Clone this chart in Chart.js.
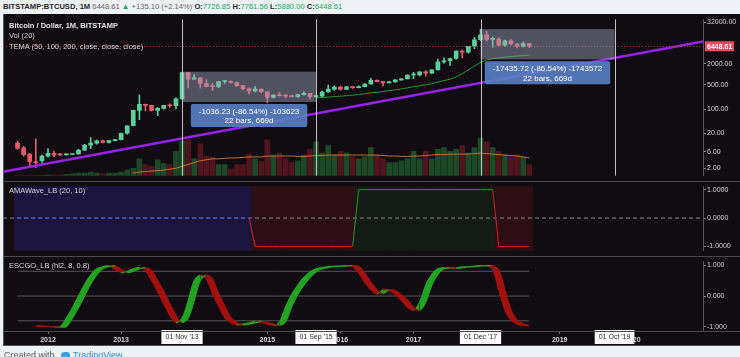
<!DOCTYPE html>
<html><head><meta charset="utf-8">
<script src="https://cdn.jsdelivr.net/npm/chart.js@4.4.0/dist/chart.umd.min.js"></script>
<style>
html,body{margin:0;padding:0;background:#eef1f5;width:740px;height:357px;overflow:hidden;font-family:'Liberation Sans',Arial,sans-serif;}
.abs{position:absolute;white-space:nowrap;}
#frame{position:absolute;left:3px;top:14px;width:737px;height:332px;background:#100c12;box-shadow:inset 1px 0 0 #555, inset 0 -1px 0 #555;}
.sep{position:absolute;left:3px;width:737px;height:1px;background:#4a4a4a;}
canvas{position:absolute;left:3px;}
.leg{color:#d6d6d6;font-size:7.5px;left:9px;line-height:9px;}
</style></head>
<body>
<div class="abs" style="left:3px;top:2px;font-size:7.6px;line-height:10px;color:#666;">
<b style="color:#1e1e1e">BITSTAMP:BTCUSD, 1M</b> 6448.61 <span style="color:#22a852">&#9650;</span> +135.10 (+2.14%) <b style="color:#1e1e1e">O:</b><span style="color:#22a852">7726.85</span> <b style="color:#1e1e1e">H:</b><span style="color:#22a852">7761.56</span> <b style="color:#1e1e1e">L:</b><span style="color:#22a852">5880.00</span> <b style="color:#1e1e1e">C:</b><span style="color:#22a852">6448.61</span>
</div>
<div id="frame"></div>
<canvas id="c1" width="737" height="167" style="top:14px"></canvas>
<canvas id="c2" width="737" height="75" style="top:181px"></canvas>
<canvas id="c3" width="737" height="90" style="top:256px"></canvas>
<div class="sep" style="top:181px"></div>
<div class="sep" style="top:256px"></div>
<div class="sep" style="top:331px"></div>
<div class="abs leg" style="top:21px;font-weight:bold;color:#e2e2e2">Bitcoin / Dollar, 1M, BITSTAMP</div>
<div class="abs leg" style="top:31px">Vol (20)</div>
<div class="abs leg" style="top:42px">TEMA (50, 100, 200, close, close, close)</div>
<div class="abs leg" style="top:186px">AMAWave_LB (20, 10)</div>
<div class="abs leg" style="top:261px">ESCGO_LB (hl2, 8, 0.8)</div>
<div class="abs" style="left:4px;top:350px;font-size:9px;color:#555;">Created with <span style="display:inline-block;width:9px;height:7px;border-radius:4px;background:#3d9be0;margin:0 3px 0 4px;vertical-align:middle"></span><span style="color:#2a8ad4">TradingView</span></div>
<script>
// ---------- DATA (monthly, first bar = Aug 2011; month index 0 = Jan 2012) ----------
const FIRST_MONTH = -5;
const open = [10.7,7.8,5.1,3.1,3.3,
 4.5,5.4,4.95,4.85,5.0,5.15,6.7,9.3,10.6,12.4,11.2,12.5,
 13.4,20.4,33.4,93,139,129,92,106,129,126,199,1130,
 732,803,550,447,444,627,635,587,478,387,338,378,
 318,217,254,244,236,230,263,284,230,236,313,377,
 430,368,437,416,448,531,673,624,573,609,700,745,
 964,965,1190,1080,1348,2300,2480,2875,4715,4340,6440,9950,
 13850,10200,10330,6920,9240,7500,6390,7726.85];
const high = [11.9,8.6,5.3,14,4.8,
 7.4,6.2,5.3,5.3,5.2,7.0,9.8,15.4,12.9,12.9,12.6,13.7,
 20.6,33.5,95,259,140,130,111,130,144,212,1163,1153,
 995,818,712,544,630,679,652,600,490,412,457,381,
 320,265,300,262,248,268,317,285,247,331,495,470,
 463,448,440,469,548,776,704,626,629,717,760,980,
 1153,1200,1300,1350,2760,2980,2930,4770,4980,6470,11400,19666,
 17200,11800,11700,9750,10000,7760,8500,7761.56];
const low = [7.0,4.5,2.1,2.1,2.8,
 4.2,4.3,4.6,4.8,4.9,5.1,6.4,7.4,9.9,10.7,10.5,12.2,
 13.2,19.1,33,50,90,88,65,101,112,102,196,410,
 730,400,440,340,419,548,560,450,357,275,312,300,
 152,209,236,214,226,218,252,198,225,235,305,350,
 355,366,393,412,437,522,606,471,570,604,676,740,
 751,910,891,1060,1340,2100,1830,2690,2970,4110,5500,9400,
 9000,6000,6600,6430,7030,5780,6070,5880];
const close = [7.5,4.9,3.1,2.9,4.5,
 5.4,4.8,4.85,5.0,5.15,6.7,9.3,10.6,12.4,11.2,12.5,13.4,
 20.4,33.4,93,139,129,92,106,129,126,199,1130,732,
 803,550,447,444,627,635,587,478,387,338,378,318,
 217,254,244,236,230,263,284,230,236,313,377,430,
 368,437,416,448,531,673,624,573,609,700,745,964,
 965,1190,1080,1348,2300,2480,2875,4715,4340,6440,9950,13850,
 10200,10330,6920,9240,7500,6390,7730,6448.61];
// volume, thousand BTC
const volume = [6,8,10,8,10,
 20,20,20,30,40,60,60,80,60,40,60,60,
 80,120,160,360,240,200,340,260,240,520,740,760,
 360,680,420,400,240,240,140,240,240,460,360,300,
 760,440,480,360,280,320,440,560,720,480,640,440,
 520,480,400,360,400,600,440,360,280,280,320,360,
 520,360,520,360,560,600,520,560,640,480,600,800,
 720,600,520,440,400,440,400,240];
const VOLMA_START = 14;
const volMA = [60,80,90,100,110,120,140,160,200,240,
 280,320,340,360,360,370,380,380,390,400,400,400,
 420,420,420,420,420,410,410,420,430,430,440,440,
 440,440,440,440,440,440,440,430,420,420,410,410,
 420,420,430,440,450,450,460,460,460,460,470,480,
 470,460,450,440,430,420,400,380];
const TEMA_START = 44;
const tema = [211,217,223,230,237,
 245,253,265,276,297,307,325,341,360,384,411,441,470,506,
 540,605,665,728,850,1050,1350,1740,2230,2600,2850,2980,3130,3250,3380,3470,3610];
// purple trend line (two anchor points)
const trendX = [-7.39, 107.52];
const trendY = [1.59, 8830];
const lastPrice = 6448.61;
const priceTicks = [32000,2000,500,100,20,6,2];
// measured ranges
const rangeStart = [22, 71];
const rangeEnd = [44, 93];
const rangeFrom = [1197.4, 20147.5];
const rangeTo = [161.17, 2711.8];
const rangeText1 = ['-1036.23 (-86.54%) -103623', '-17435.72 (-86.54%) -1743572'];
const rangeText2 = ['22 bars, 669d', '22 bars, 669d'];
const dateMarks = [22, 44, 71, 93];
const dateLabels = ["01 Nov '13", "01 Sep '15", "01 Dec '17", "01 Oct '19"];
// AMAWave
const amaWave = [0,0,0,0,0,0,0,0,0,0,0,0,0,0,0,0,0,0,0,0,0,0,0,0,0,0,0,0,0,0,0,0,0,0,0,0,0,0,0,
 -1,-1,-1,-1,-1,-1,-1,-1,-1,-1,-1,-1,-1,-1,-1,-1,-1,
 1,1,1,1,1,1,1,1,1,1,1,1,1,1,1,1,1,1,1,1,1,1,1,
 -1,-1,-1,-1,-1,-1];
const amaTicks = [1,0,-1];
// ESCGO
const ESC_START = -2;
const escgo = [-0.97,-0.98,-0.99,-1.0,-0.99,-0.72,-0.38,0.0,0.38,0.68,0.88,0.95,0.98,0.87,0.76,0.8,0.88,0.92,0.82,0.5,0.15,-0.25,-0.62,-0.86,-0.72,-0.15,0.5,0.68,0.55,0.08,-0.32,-0.7,-0.86,-0.93,-0.91,-0.87,-0.82,-0.86,-0.9,-0.95,-0.84,-0.35,0.05,0.35,0.6,0.78,0.88,0.92,0.95,0.96,0.97,0.98,0.96,0.74,0.45,0.2,0.07,0.2,0.18,0.04,-0.13,-0.36,-0.46,-0.2,0.35,0.7,0.88,0.92,0.9,0.91,0.94,0.95,0.97,0.98,0.98,0.85,0.2,-0.45,-0.78,-0.9,-0.95,-0.96];
const escTrigger = [-0.96,-0.97,-0.98,-0.99,-1.0,-0.99,-0.72,-0.38,0.0,0.38,0.68,0.88,0.95,0.98,0.87,0.76,0.8,0.88,0.92,0.82,0.5,0.15,-0.25,-0.62,-0.86,-0.72,-0.15,0.5,0.68,0.55,0.08,-0.32,-0.7,-0.86,-0.93,-0.91,-0.87,-0.82,-0.86,-0.9,-0.95,-0.84,-0.35,0.05,0.35,0.6,0.78,0.88,0.92,0.95,0.96,0.97,0.98,0.96,0.74,0.45,0.2,0.07,0.2,0.18,0.04,-0.13,-0.36,-0.46,-0.2,0.35,0.7,0.88,0.92,0.9,0.91,0.94,0.95,0.97,0.98,0.98,0.85,0.2,-0.45,-0.78,-0.9,-0.95];
const escLevels = [0.8, 0, -0.8];
const escTicks = [1,0,-1];
const yearTicks = [2012,2013,2014,2015,2016,2017,2018,2019,2020];
const hiddenYears = [2014,2018];

// ---------- layout constants ----------
const F = "'Liberation Sans', Arial, sans-serif";
const XMIN = -7.39, XMAX = 107.52;
const PMIN = 1.22, PMAX = 38690;
const AMIN = -1.152, AMAX = 1.121;
const EMIN = -1.13, EMAX = 1.126;
const UP = '#5ccf9a', DN = '#e85a6c';
const mIdx = open.map((_, i) => FIRST_MONTH + i);
const ccol = open.map((o, i) => close[i] >= o ? UP : DN);
const vcol = open.map((o, i) => close[i] >= o ? 'rgba(40,125,55,0.55)' : 'rgba(150,30,40,0.5)');

const base = {
  responsive:false, animation:false, events:[],
  layout:{padding:0, autoPadding:false},
  plugins:{legend:{display:false}, tooltip:{enabled:false}}
};
const hiddenX = {type:'linear', min:XMIN, max:XMAX, display:false, offset:false, grid:{offset:false}};
function rightAxis(type, min, max, ticks, fmt){
  return {type, position:'right', min, max,
    afterBuildTicks:s=>{s.ticks = ticks.map(v=>({value:v}));},
    afterFit:s=>{s.width = 37;},
    ticks:{color:'#d2d2d2', font:{size:7, family:F}, padding:1, autoSkip:false, callback:v=>fmt(v)},
    grid:{drawOnChartArea:false, drawTicks:true, tickLength:3, color:'#8a8a8a'},
    border:{display:true, color:'#555'}};
}

// ---------- main pane ----------
const mainDeco = {
  id:'mainDeco',
  afterDatasetsDraw(chart){
    const {ctx, chartArea:a, scales:{x, y}} = chart;
    ctx.save();
    ctx.beginPath(); ctx.rect(a.left, a.top, a.right-a.left, a.bottom-a.top); ctx.clip();
    const py = Math.round(y.getPixelForValue(lastPrice)) + 0.5;
    ctx.strokeStyle = 'rgba(200,50,70,0.85)'; ctx.lineWidth = 1; ctx.setLineDash([1,2]);
    ctx.beginPath(); ctx.moveTo(a.left, py); ctx.lineTo(a.right, py); ctx.stroke();
    ctx.setLineDash([]);
    rangeStart.forEach((m0, i) => {
      const x1 = x.getPixelForValue(m0), x2 = x.getPixelForValue(rangeEnd[i]);
      const y1 = y.getPixelForValue(rangeFrom[i]), y2 = y.getPixelForValue(rangeTo[i]);
      ctx.fillStyle = 'rgba(160,168,190,0.45)';
      ctx.fillRect(x1, y1, x2-x1, y2-y1);
    });
    ctx.strokeStyle = 'rgba(215,215,215,0.9)'; ctx.lineWidth = 1;
    dateMarks.forEach(m => {
      const xx = Math.round(x.getPixelForValue(m)) + 0.5;
      ctx.beginPath(); ctx.moveTo(xx, a.top); ctx.lineTo(xx, a.bottom); ctx.stroke();
    });
    ctx.font = '8px ' + F; ctx.textAlign = 'center'; ctx.textBaseline = 'middle';
    rangeStart.forEach((m0, i) => {
      const x1 = x.getPixelForValue(m0), x2 = x.getPixelForValue(rangeEnd[i]);
      const y2 = y.getPixelForValue(rangeTo[i]);
      const w = Math.max(ctx.measureText(rangeText1[i]).width, ctx.measureText(rangeText2[i]).width) + 16;
      const cx = (x1 + x2) / 2, top = y2 + 2;
      ctx.fillStyle = 'rgba(90,127,196,0.9)';
      ctx.beginPath(); ctx.roundRect(cx - w/2, top, w, 23, 2); ctx.fill();
      ctx.fillStyle = '#ffffff';
      ctx.fillText(rangeText1[i], cx, top + 7.5);
      ctx.fillText(rangeText2[i], cx, top + 17);
    });
    ctx.restore();
  },
  afterDraw(chart){
    const {ctx, chartArea:a, scales:{y}} = chart;
    const py = y.getPixelForValue(lastPrice);
    ctx.save();
    ctx.fillStyle = '#e84b5d';
    ctx.fillRect(a.right + 2, py - 5, 29, 10);
    ctx.fillStyle = '#fff'; ctx.font = 'bold 7px ' + F; ctx.textAlign = 'left'; ctx.textBaseline = 'middle';
    ctx.fillText(lastPrice.toFixed(2), a.right + 4, py + 0.5);
    ctx.restore();
  }
};

new Chart(document.getElementById('c1'), {
  type:'bar',
  data:{datasets:[
    {type:'bar', yAxisID:'yv', data:mIdx.map((m,i)=>({x:m, y:volume[i]})), backgroundColor:vcol, barThickness:5, grouped:false, order:10},
    {type:'line', yAxisID:'yv', data:volMA.map((v,i)=>({x:VOLMA_START+i, y:v})), borderColor:'#c27334', borderWidth:1, pointRadius:0, order:9},
    {type:'line', yAxisID:'y', data:tema.map((v,i)=>({x:TEMA_START+i, y:v})), borderColor:'#1f9a2c', borderWidth:1, pointRadius:0, order:6},
    {type:'bar', yAxisID:'y', data:mIdx.map((m,i)=>({x:m, y:[low[i], high[i]]})), backgroundColor:ccol, barThickness:1, grouped:false, order:4},
    {type:'bar', yAxisID:'y', data:mIdx.map((m,i)=>({x:m, y:[open[i], close[i]]})), backgroundColor:ccol, barThickness:4, grouped:false, minBarLength:1, order:3},
    {type:'line', yAxisID:'y', data:trendX.map((xv,i)=>({x:xv, y:trendY[i]})), borderColor:'#9a22ee', borderWidth:2.5, pointRadius:0, order:1}
  ]},
  options:Object.assign({}, base, {
    scales:{
      x:hiddenX,
      y:rightAxis('logarithmic', PMIN, PMAX, priceTicks, v=>Number(v).toFixed(2)),
      yv:{type:'linear', display:false, min:0, max:3320}
    }
  }),
  plugins:[mainDeco]
});

// ---------- AMAWave pane ----------
const amaBg = amaWave.map(v => v === 0 ? '#1a143f' : (v > 0 ? '#121b14' : '#2d0e14'));
new Chart(document.getElementById('c2'), {
  type:'bar',
  data:{datasets:[
    {type:'bar', data:mIdx.map((m,i)=>({x:m, y:[AMIN, AMAX]})), backgroundColor:amaBg, barThickness:6.8, grouped:false, order:10},
    {type:'line', data:[{x:XMIN, y:0},{x:XMAX, y:0}], borderColor:'#8a8a8a', borderWidth:1, borderDash:[4,3], pointRadius:0, order:5},
    {type:'line', data:mIdx.map((m,i)=>({x:m, y:amaWave[i]})), borderWidth:1, pointRadius:0, order:1,
      segment:{
        borderColor:c => c.p1.parsed.y > 0 ? '#1e9a1e' : (c.p1.parsed.y < 0 ? '#d01e24' : '#3850e0'),
        borderDash:c => (c.p0.parsed.y === 0 && c.p1.parsed.y === 0) ? [4,3] : undefined
      }}
  ]},
  options:Object.assign({}, base, {
    scales:{
      x:hiddenX,
      y:rightAxis('linear', AMIN, AMAX, amaTicks, v=>Number(v).toFixed(4))
    }
  })
});

// ---------- ESCGO pane + time axis ----------
const G = '#22a322', R = '#a3100f';
const timeDeco = {
  id:'timeDeco',
  afterDraw(chart){
    const {ctx, chartArea:a, scales:{x}} = chart;
    ctx.save();
    ctx.font = '7px ' + F; ctx.textAlign = 'center'; ctx.textBaseline = 'middle';
    dateMarks.forEach((m, i) => {
      const cx = x.getPixelForValue(m);
      const w = ctx.measureText(dateLabels[i]).width + 8;
      ctx.fillStyle = '#ffffff';
      ctx.fillRect(cx - w/2, a.bottom - 1, w, 14);
      ctx.fillStyle = '#1e222d';
      ctx.fillText(dateLabels[i], cx, a.bottom + 6.5);
    });
    ctx.restore();
  }
};
const segCol = c => c.p1.parsed.y >= c.p0.parsed.y ? G : R;
new Chart(document.getElementById('c3'), {
  type:'line',
  data:{datasets:[
    ...escLevels.map(l => ({data:[{x:FIRST_MONTH, y:l},{x:mIdx[mIdx.length-1], y:l}], borderColor:'#575757', borderWidth:1, pointRadius:0, order:10})),
    {data:escgo.map((v,i)=>({x:ESC_START+i, y:v})), borderWidth:1.2, pointRadius:0, tension:0.3, order:2,
      segment:{borderColor:segCol}, fill:{target:'+1', above:G, below:R}},
    {data:escTrigger.map((v,i)=>({x:ESC_START+i, y:v})), borderWidth:1.2, pointRadius:0, tension:0.3, order:1,
      segment:{borderColor:segCol}, fill:false}
  ]},
  options:Object.assign({}, base, {
    scales:{
      x:{type:'linear', min:XMIN, max:XMAX, position:'bottom', offset:false,
        afterBuildTicks:s=>{s.ticks = yearTicks.map(yv=>({value:(yv-2012)*12}));},
        afterFit:s=>{s.height = 15;},
        ticks:{autoSkip:false, maxRotation:0, color:'#d6d6d6', font:{size:7, weight:'bold', family:F}, padding:2,
          callback:v=>{const yr = 2012 + Math.round(v/12); return hiddenYears.includes(yr) ? '' : String(yr);}},
        grid:{drawOnChartArea:false, drawTicks:true, tickLength:3, color:'#777'},
        border:{display:true, color:'#555'}},
      y:rightAxis('linear', EMIN, EMAX, escTicks, v=>Number(v).toFixed(3))
    }
  }),
  plugins:[timeDeco]
});
</script>
</body></html>
